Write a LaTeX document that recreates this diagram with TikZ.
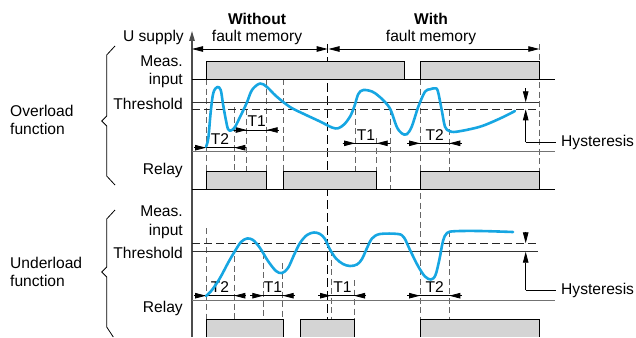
\documentclass[tikz,border=0pt]{standalone}
\usepackage{fontspec}
\setmainfont{Liberation Sans}
\usetikzlibrary{arrows.meta}
\definecolor{curveblue}{RGB}{22,166,226}
\definecolor{sigfill}{RGB}{212,212,212}
\begin{document}
\begin{tikzpicture}[x=1pt,y=-1pt,
  lab/.style={inner sep=0pt, font=\fontsize{15.6}{18}\selectfont},
  labb/.style={inner sep=0pt, font=\fontsize{15.6}{18}\selectfont\bfseries},
  curve/.style={line width=2.6pt, draw=curveblue, line cap=round, line join=round},
  guide/.style={dash pattern=on 6pt off 3.5pt, line width=0.8pt, draw=black!60},
  centerdash/.style={dash pattern=on 9pt off 4pt, line width=1.3pt, draw=black},
  thresh/.style={line width=1.3pt, draw=black!80},
  threshdash/.style={line width=1.3pt, draw=black!85, dash pattern=on 8pt off 4pt},
  sigline/.style={line width=1pt, draw=black},
  tline/.style={line width=0.8pt, draw=black!55},
  axisline/.style={line width=1.2pt, draw=black!70},
  tip/.style={-{Triangle[length=11pt,width=5.5pt]}, line width=0.8pt, draw=black},
  brace/.style={line width=0.8pt, draw=black}
]
\useasboundingbox (0,0) rectangle (636,337);

% ---------- guides (dashed verticals) ----------
% overload
\draw[guide] (206,79) -- (206,171);
\draw[guide] (234.3,107) -- (234.3,171);
\draw[guide] (246.7,109) -- (246.7,171);
\draw[guide] (266.7,79) -- (266.7,171);
\draw[guide] (283,79) -- (283,171);
\draw[guide] (355,109) -- (355,171);
\draw[guide] (376.7,138) -- (376.7,171);
\draw[guide] (390.7,109) -- (390.7,189);
\draw[guide] (420,79) -- (420,319.3);
\draw[guide] (449.3,110) -- (449.3,171);
\draw[guide] (539.3,44) -- (539.3,171);
% underload
\draw[guide] (206,228) -- (206,319.3);
\draw[guide] (234.3,256) -- (234.3,319.3);
\draw[guide] (263.3,253) -- (263.3,319.3);
\draw[guide] (282.7,263) -- (282.7,319.3);
\draw[guide] (331,250) -- (331,319.3);
\draw[guide] (354,280) -- (354,319.3);
\draw[guide] (449.3,231) -- (449.3,319.3);
% centre
\draw[centerdash] (327.7,44) -- (327.7,337);

% ---------- axis ----------
\draw[axisline, -{Triangle[length=10pt,width=5.5pt]}] (192,337) -- (192,31);

% ---------- top dimension ----------
\draw[tip, {Triangle[length=11pt,width=5.5pt]}-{Triangle[length=11pt,width=5.5pt]}] (192,49) -- (327.7,49);
\draw[tip, {Triangle[length=11pt,width=5.5pt]}-{Triangle[length=11pt,width=5.5pt]}] (328.5,49) -- (539.3,49);
\node[labb] (wo) at (257,18.5) {Without};
\node[lab] (wofm) at (257,37.5) {fault memory};
\node[labb] (wi) at (431,18.5) {With};
\node[lab] (wifm) at (431,37.5) {fault memory};

% ---------- labels ----------
\node[lab, anchor=east] (usup) at (184,37.5) {U supply};
\node[lab, anchor=east] (m1a) at (183,61.5) {Meas.};
\node[lab, anchor=east] (m1b) at (183,80) {input};
\node[lab, anchor=east] (th1) at (183,103.5) {Threshold};
\node[lab, anchor=east] (re1) at (183,170) {Relay};
\node[lab, anchor=east] (m2a) at (183,211.5) {Meas.};
\node[lab, anchor=east] (m2b) at (183,231.5) {input};
\node[lab, anchor=east] (th2) at (183,252.5) {Threshold};
\node[lab, anchor=east] (re2) at (183,308) {Relay};
\node[lab, anchor=west, align=left] (ov) at (10,120) {Overload\\function};
\node[lab, anchor=west, align=left] (un) at (10,272) {Underload\\function};

% braces
\draw[brace] (115,46) -- (106.7,55) -- (106.7,116) -- (101.7,121) -- (106.7,126) -- (106.7,176) -- (115,185);
\draw[brace] (115,210) -- (106.7,219) -- (106.7,267) -- (101.7,272) -- (106.7,277) -- (106.7,327) -- (113.3,337);

% ---------- overload meas input ----------
\fill[sigfill] (206,61) rectangle (404,79);
\fill[sigfill] (420,61) rectangle (539.3,79);
\draw[sigline] (192,79) -- (555,79);
\draw[sigline] (192,79) -- (206,79) -- (206,61) -- (404,61) -- (404,79) -- (420,79) -- (420,61) -- (539.3,61) -- (539.3,79) -- (555,79);

% ---------- overload threshold ----------
\draw[thresh] (192,102.3) -- (539,102.3);
\draw[threshdash] (192,109.3) -- (539,109.3);
\draw[tline] (192,151.7) -- (555,151.7);

% ---------- overload relay ----------
\fill[sigfill] (206,171) rectangle (266.7,189);
\fill[sigfill] (283,171) rectangle (376.7,189);
\fill[sigfill] (420,171) rectangle (539.3,189);
\draw[sigline] (192,189) -- (555,189);
\draw[sigline] (192,189) -- (206,189) -- (206,171) -- (266.7,171) -- (266.7,189) -- (283,189) -- (283,171) -- (376.7,171) -- (376.7,189) -- (420,189) -- (420,171) -- (539.3,171) -- (539.3,189) -- (555,189);

% ---------- overload timers ----------
\draw[line width=0.8pt] (194,147.7) -- (245.7,147.7);
\draw[tip] (194,147.7) -- (206,147.7);
\draw[tip] (245.7,147.7) -- (234.3,147.7);
\node[lab] (o1t2) at (220,139.5) {T2};
\draw[line width=0.8pt] (233,130) -- (278,130);
\draw[tip] (233,130) -- (246.7,130);
\draw[tip] (278,130) -- (266.7,130);
\node[lab] (o1t1) at (256.7,121.5) {T1};
\draw[line width=0.8pt] (342.7,143.3) -- (390,143.3);
\draw[tip] (342.7,143.3) -- (355,143.3);
\draw[tip] (390,143.3) -- (376.7,143.3);
\node[lab] (o2t1) at (366,135) {T1};
\draw[line width=0.8pt] (407.3,143.3) -- (461.7,143.3);
\draw[tip] (407.3,143.3) -- (420,143.3);
\draw[tip] (461.7,143.3) -- (449.3,143.3);
\node[lab] (o2t2) at (434.7,135) {T2};

% overload hysteresis
\draw[tip] (525.7,88) -- (525.7,102.3);
\draw[tip] (525.7,142.3) -- (525.7,109.3);
\draw[line width=0.8pt] (525.7,142.3) -- (556,142.3);
\node[lab, anchor=west] (hy1) at (561,142.3) {Hysteresis};

% overload curve
\draw[curve] plot[smooth, tension=0.55] coordinates {
 (206,146.7) (208.3,138.3) (210.7,112) (213.3,93) (217.3,87) (220.7,90)
 (223,104) (225.5,118) (228,129) (231,130.5) (235,127) (240,117) (246.7,103)
 (252,90) (260,83.5) (267,87) (276,96) (290,107) (305,114.5) (320,121.5)
 (332,127.5) (338,128.3) (344,124.5) (350,116.7) (354.5,106) (358.3,94)
 (363.3,90) (372,91.5) (378,95.5) (385,102) (390.7,110) (396.7,126.7)
 (401.7,133.3) (406.7,134.3) (411.7,126.7) (418.3,106.7) (425,91.7)
 (430,89.3) (435,88.3) (437.8,91) (441.7,110) (445,126.7) (449.3,131)
 (456.7,131.7) (480,126.7) (500,118.5) (515,111)};

% ---------- underload threshold ----------
\draw[thresh] (192,251.7) -- (538,251.7);
\draw[threshdash] (192,243.3) -- (538,243.3);
\draw[tline] (192,300.7) -- (555,300.7);

% ---------- underload relay ----------
\fill[sigfill] (206,319.3) rectangle (283,337);
\fill[sigfill] (300,319.3) rectangle (354,337);
\fill[sigfill] (420,319.3) rectangle (539.3,337);
\draw[sigline] (206,337) -- (206,319.3) -- (283,319.3) -- (283,337);
\draw[sigline] (300,337) -- (300,319.3) -- (354,319.3) -- (354,337);
\draw[sigline] (420,337) -- (420,319.3) -- (539.3,319.3) -- (539.3,337);

% ---------- underload timers ----------
\draw[line width=0.8pt] (194,295.7) -- (245.7,295.7);
\draw[tip] (194,295.7) -- (206,295.7);
\draw[tip] (245.7,295.7) -- (234.3,295.7);
\node[lab] (u1t2) at (220,287.5) {T2};
\draw[line width=0.8pt] (250,295.7) -- (295,295.7);
\draw[tip] (250,295.7) -- (263.3,295.7);
\draw[tip] (295,295.7) -- (282.7,295.7);
\node[lab] (u1t1) at (273,287.5) {T1};
\draw[line width=0.8pt] (318,295.7) -- (366,295.7);
\draw[tip] (318,295.7) -- (331,295.7);
\draw[tip] (366,295.7) -- (354,295.7);
\node[lab] (u2t1) at (342.5,287.5) {T1};
\draw[line width=0.8pt] (407.3,295.7) -- (461.7,295.7);
\draw[tip] (407.3,295.7) -- (420,295.7);
\draw[tip] (461.7,295.7) -- (449.3,295.7);
\node[lab] (u2t2) at (434.7,287.5) {T2};

% underload hysteresis
\draw[tip] (525.7,231.7) -- (525.7,243.3);
\draw[tip] (525.7,290) -- (525.7,251.7);
\draw[line width=0.8pt] (525.7,290) -- (556,290);
\node[lab, anchor=west] (hy2) at (561,290) {Hysteresis};

% underload curve
\draw[curve] plot[smooth, tension=0.55] coordinates {
 (206,296) (212,290) (220,278) (228,263) (235,251) (241,242) (247,238.5)
 (253,240) (260,248) (268,261) (276,271) (282,273) (288,268) (294,255)
 (300,243) (307,235) (314,232.5) (320,234) (325,239) (330,249.5)
 (336,258.5) (343,264) (350,266) (357,264.5) (362,259) (367,248)
 (372,238.5) (380,234) (398,234) (404,237.5) (410,250) (418,266)
 (425,276.5) (431,279.5) (435.5,275) (439.5,259) (443,241) (447,233)
 (455,231.2) (480,231) (513,232)};

\end{tikzpicture}
\end{document}
